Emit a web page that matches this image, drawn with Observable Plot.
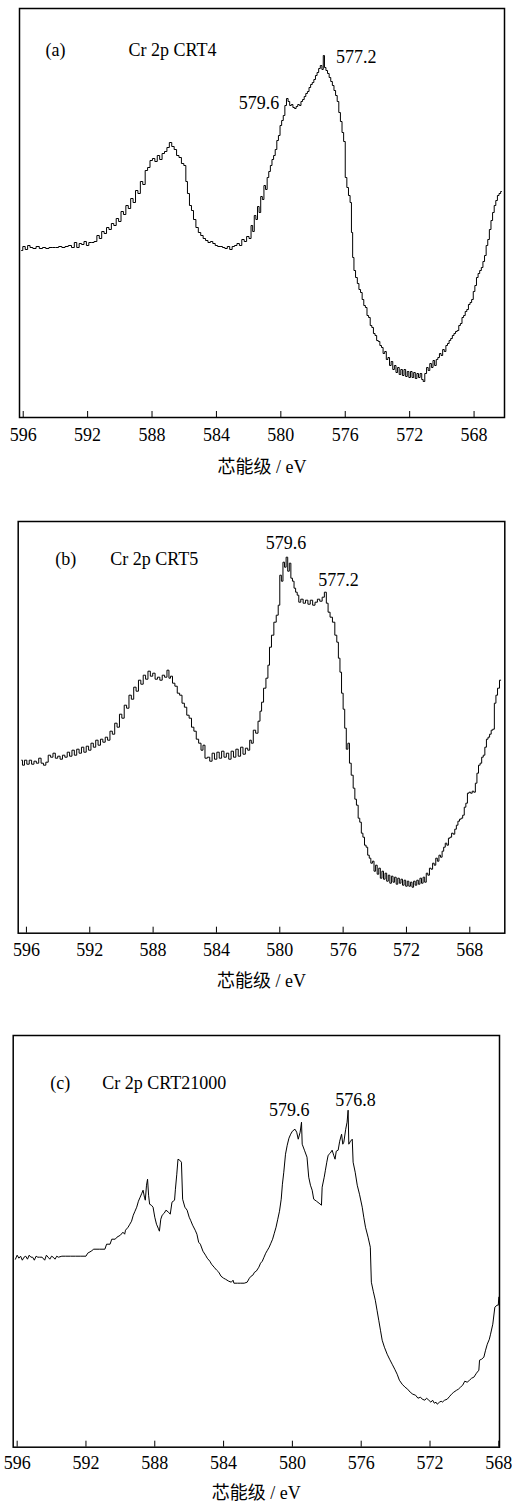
<!DOCTYPE html>
<html><head><meta charset="utf-8">
<script src="https://cdn.jsdelivr.net/npm/d3@7"></script>
<script src="https://cdn.jsdelivr.net/npm/@observablehq/plot@0.6"></script>
<style>
body{margin:0;background:#fff;width:512px}
#root svg{display:block}
</style></head><body><div id="root"></div>
<script>
// ---- data (binding energy eV, intensity a.u.) ----
const tickValues = [596, 592, 588, 584, 580, 576, 572, 568];
const panelLabels = ["(a)", "(b)", "(c)"];
const sampleNames = ["Cr 2p CRT4", "Cr 2p CRT5", "Cr 2p CRT21000"];
const axisTitle = "芯能级 / eV";

const crt4 = [
[596.10,167],[595.95,171],[595.80,168],[595.65,172],[595.50,170],[595.30,169],[595.10,171],[594.90,169],[594.70,170],[594.50,169],
[594.30,170],[594.10,170],[593.90,170],[593.70,171],[593.50,170],[593.30,171],[593.10,172],[592.90,170],[592.75,175],[592.60,170],
[592.45,174],[592.30,173],[592.15,176],[592.00,172],[591.85,175],[591.70,175],[591.50,176],[591.35,182],[591.20,179],[591.05,186],
[590.90,184],[590.75,190],[590.60,188],[590.45,194],[590.30,192],[590.15,199],[590.00,196],[589.85,206],[589.70,203],[589.55,212],
[589.40,209],[589.25,219],[589.10,215],[588.95,227],[588.80,224],[588.65,236],[588.50,233],[588.35,247],[588.20,250],[588.05,257],
[587.90,259],[587.75,256],[587.60,262],[587.45,258],[587.30,264],[587.15,266],[587.00,270],[586.85,275],[586.70,271],[586.55,268],
[586.40,262],[586.25,260],[586.10,254],[585.95,252],[585.85,236],[585.75,224],[585.60,212],[585.50,207],[585.35,198],[585.20,190],
[585.05,185],[584.90,182],[584.75,179],[584.60,177],[584.45,175],[584.30,176],[584.15,174],[584.00,172],[583.85,171],[583.70,171],
[583.55,170],[583.40,169],[583.25,171],[583.10,168],[582.95,171],[582.80,172],[582.65,174],[582.50,172],[582.35,178],[582.20,176],
[582.05,181],[581.90,179],[581.80,192],[581.70,186],[581.60,202],[581.50,198],[581.40,211],[581.30,205],[581.20,221],[581.10,218],
[581.00,232],[580.90,228],[580.80,240],[580.70,246],[580.60,252],[580.50,258],[580.40,262],[580.30,268],[580.20,277],[580.10,282],
[580.00,292],[579.90,297],[579.80,302],[579.70,312],[579.60,319],[579.50,316],[579.40,312],[579.30,313],[579.20,310],[579.10,309],
[579.00,311],[578.90,313],[578.80,312],[578.70,316],[578.60,318],[578.50,321],[578.40,324],[578.30,326],[578.20,330],[578.10,333],
[578.00,335],[577.90,338],[577.80,342],[577.70,345],[577.60,349],[577.50,352],[577.40,348],[577.33,362],[577.25,350],[577.15,347],
[577.05,344],[576.95,340],[576.85,336],[576.75,332],[576.65,327],[576.55,322],[576.45,316],[576.35,305],[576.25,296],[576.15,285],
[576.05,276],[575.95,240],[575.85,230],[575.75,222],[575.65,215],[575.58,185],[575.50,160],[575.42,147],[575.30,140],[575.20,134],
[575.10,128],[575.00,125],[574.90,118],[574.80,112],[574.70,110],[574.60,102],[574.50,100],[574.40,92],[574.30,90],[574.20,84],
[574.10,82],[574.00,77],[573.90,76],[573.80,72],[573.70,70],[573.60,64],[573.50,66],[573.40,58],[573.30,60],[573.20,52],
[573.10,56],[573.00,48],[572.90,52],[572.80,45],[572.70,50],[572.60,43],[572.50,48],[572.40,42],[572.30,48],[572.20,41],
[572.10,46],[572.00,40],[571.90,46],[571.80,40],[571.70,45],[571.60,39],[571.50,44],[571.40,40],[571.30,44],[571.20,38],
[571.12,36],[571.00,44],[570.90,50],[570.80,47],[570.70,54],[570.60,50],[570.50,57],[570.40,52],[570.30,58],[570.20,60],
[570.10,64],[570.00,62],[569.90,68],[569.80,66],[569.70,72],[569.60,74],[569.50,77],[569.40,79],[569.30,82],[569.20,84],
[569.10,86],[569.00,87],[568.90,92],[568.80,94],[568.70,100],[568.60,102],[568.50,106],[568.40,108],[568.30,113],[568.20,115],
[568.10,118],[568.00,126],[567.90,132],[567.80,140],[567.70,144],[567.60,147],[567.50,150],[567.40,156],[567.30,162],[567.20,172],
[567.10,178],[567.00,188],[566.90,197],[566.80,205],[566.70,212],[566.60,217],[566.50,222],[566.40,224],[566.30,226]
];

const crt5 = [
[596.30,173],[596.20,168],[596.05,173],[595.90,169],[595.75,173],[595.60,169],[595.45,172],[595.30,170],[595.15,175],[595.00,170],
[594.85,168],[594.70,171],[594.55,178],[594.40,176],[594.25,180],[594.10,175],[593.95,177],[593.80,174],[593.65,178],[593.50,176],
[593.35,181],[593.20,177],[593.05,183],[592.90,178],[592.75,184],[592.60,180],[592.45,186],[592.30,181],[592.15,187],[592.00,183],
[591.85,190],[591.70,186],[591.55,193],[591.40,188],[591.25,194],[591.10,191],[590.95,196],[590.80,193],[590.65,202],[590.50,199],
[590.35,210],[590.20,206],[590.05,219],[589.90,215],[589.75,228],[589.60,225],[589.45,238],[589.30,234],[589.15,246],[589.00,242],
[588.85,253],[588.70,249],[588.55,258],[588.40,254],[588.25,262],[588.10,257],[587.95,260],[587.80,254],[587.65,256],[587.50,253],
[587.35,258],[587.20,256],[587.05,263],[586.95,255],[586.85,257],[586.70,250],[586.55,247],[586.40,240],[586.25,238],[586.10,230],
[585.95,226],[585.80,218],[585.65,215],[585.50,206],[585.35,202],[585.20,194],[585.05,190],[584.90,183],[584.80,188],[584.65,175],
[584.50,176],[584.35,172],[584.20,180],[584.05,174],[583.90,181],[583.75,175],[583.60,182],[583.45,176],[583.30,180],[583.15,174],
[583.00,182],[582.85,176],[582.70,184],[582.55,177],[582.40,186],[582.25,179],[582.10,185],[581.95,183],[581.85,193],[581.75,190],
[581.60,203],[581.45,200],[581.30,212],[581.20,222],[581.10,231],[580.95,245],[580.80,255],[580.70,268],[580.60,286],[580.45,298],
[580.30,311],[580.15,318],[580.05,328],[579.95,358],[579.85,352],[579.75,371],[579.65,366],[579.55,376],[579.45,362],[579.35,370],
[579.25,355],[579.15,352],[579.05,345],[578.95,341],[578.85,338],[578.75,331],[578.60,334],[578.45,330],[578.30,333],[578.15,329],
[578.00,333],[577.85,328],[577.70,331],[577.55,334],[577.40,332],[577.25,336],[577.12,341],[577.00,330],[576.90,321],[576.75,316],
[576.60,311],[576.45,298],[576.35,291],[576.25,275],[576.15,261],[576.05,240],[575.95,224],[575.85,205],[575.75,184],[575.65,190],
[575.55,170],[575.43,158],[575.30,145],[575.22,134],[575.10,128],[575.00,115],[574.90,111],[574.80,100],[574.70,96],[574.60,88],
[574.50,86],[574.40,78],[574.30,75],[574.20,70],[574.10,72],[574.00,62],[573.90,68],[573.80,59],[573.70,65],[573.60,55],
[573.50,62],[573.40,54],[573.30,60],[573.20,52],[573.10,58],[573.00,50],[572.90,57],[572.80,51],[572.70,56],[572.60,49],
[572.50,55],[572.40,50],[572.30,54],[572.20,48],[572.10,53],[572.00,47],[571.90,52],[571.80,47],[571.70,51],[571.60,46],
[571.50,52],[571.40,48],[571.30,53],[571.20,49],[571.10,55],[571.00,50],[570.90,56],[570.80,51],[570.70,60],[570.60,58],
[570.50,65],[570.40,64],[570.30,70],[570.20,68],[570.10,75],[570.00,72],[569.90,78],[569.80,76],[569.70,82],[569.60,86],
[569.50,90],[569.40,88],[569.30,95],[569.20,96],[569.10,100],[569.00,99],[568.90,104],[568.80,108],[568.70,112],[568.60,114],
[568.50,115],[568.40,118],[568.30,126],[568.20,130],[568.10,140],[568.00,141],[567.90,140],[567.80,142],[567.70,141],[567.60,150],
[567.50,160],[567.40,168],[567.30,170],[567.20,176],[567.10,178],[567.00,186],[566.90,194],[566.80,196],[566.70,199],[566.60,203],
[566.50,204],[566.40,230],[566.30,238],[566.20,245],[566.05,253]
];

const crt21000 = [
[596.10,188],[596.00,192],[595.90,189],[595.80,191],[595.70,187],[595.60,190],[595.50,191],[595.40,188],[595.30,192],[595.20,190],
[595.10,190],[595.00,187],[594.90,191],[594.80,190],[594.70,190],[594.55,190],[594.40,187],[594.30,192],[594.20,190],[594.10,188],
[594.00,191],[593.90,190],[593.80,188],[593.70,191],[593.60,190],[593.40,191],[593.20,191],[592.90,191],[592.60,191],[592.30,191],
[592.00,191],[591.90,194],[591.70,196],[591.55,198],[591.20,198],[590.90,198],[590.80,203],[590.60,203],[590.50,208],[590.30,208],
[590.20,210],[590.00,212],[589.85,215],[589.75,213],[589.70,217],[589.55,220],[589.45,223],[589.35,226],[589.25,232],[589.15,236],
[589.05,240],[588.95,246],[588.85,250],[588.75,254],[588.68,257],[588.60,250],[588.55,247],[588.48,262],[588.42,268],[588.36,252],
[588.30,243],[588.20,242],[588.10,240],[588.00,230],[587.90,223],[587.80,219],[587.73,216],[587.65,228],[587.57,232],[587.45,234],
[587.35,237],[587.20,235],[587.10,233],[587.00,245],[586.85,247],[586.80,258],[586.72,273],[586.65,288],[586.55,287],[586.45,285],
[586.38,248],[586.25,240],[586.12,237],[586.00,230],[585.92,227],[585.80,222],[585.65,217],[585.55,213],[585.45,205],[585.35,203],
[585.20,196],[585.05,192],[584.95,189],[584.80,186],[584.70,183],[584.55,180],[584.40,177],[584.28,175],[584.15,171],[584.00,169],
[583.89,168],[583.70,166],[583.55,165],[583.45,167],[583.40,164],[583.20,164],[583.00,164],[582.80,164],[582.63,165],[582.50,169],
[582.40,171],[582.30,172],[582.20,175],[582.10,176],[581.95,180],[581.85,184],[581.75,186],[581.65,190],[581.55,194],[581.45,197],
[581.35,200],[581.25,204],[581.15,208],[581.05,214],[580.95,220],[580.85,228],[580.75,236],[580.65,248],[580.58,263],[580.50,275],
[580.40,293],[580.30,302],[580.20,309],[580.10,313],[580.00,316],[579.85,318],[579.75,315],[579.66,308],[579.55,315],[579.47,325],
[579.43,303],[579.30,297],[579.15,290],[579.05,270],[578.95,262],[578.85,257],[578.76,248],[578.60,246],[578.45,244],[578.31,242],
[578.27,260],[578.15,270],[578.08,277],[578.00,285],[577.92,292],[577.80,294],[577.69,297],[577.60,292],[577.52,288],[577.45,296],
[577.34,297],[577.25,306],[577.14,313],[577.07,303],[577.01,305],[576.90,318],[576.82,325],[576.76,337],[576.72,303],[576.62,306],
[576.52,308],[576.47,285],[576.35,275],[576.23,262],[576.10,253],[575.94,240],[575.85,230],[575.75,220],[575.60,210],[575.47,200],
[575.41,165],[575.30,156],[575.18,147],[575.08,137],[574.98,127],[574.88,117],[574.78,107],[574.65,100],[574.49,93],[574.35,88],
[574.20,83],[574.05,78],[573.91,73],[573.78,67],[573.62,63],[573.45,60],[573.30,58],[573.15,55],[573.00,53],[572.84,52],
[572.70,49],[572.55,50],[572.45,48],[572.30,47],[572.20,49],[572.07,47],[571.95,45],[571.85,47],[571.75,44],[571.65,45],
[571.58,43],[571.45,45],[571.35,46],[571.29,45],[571.15,47],[571.00,48],[570.85,51],[570.75,53],[570.62,55],[570.45,57],
[570.35,58],[570.23,60],[570.10,62],[569.98,66],[569.84,65],[569.70,67],[569.58,69],[569.45,70],[569.30,74],[569.16,77],
[569.12,87],[569.00,88],[568.87,90],[568.77,97],[568.67,103],[568.55,108],[568.48,113],[568.35,123],[568.23,140],[568.10,142],
[568.03,142],[568.00,150]
];

const peaksA = [{label: "579.6", E: 579.6, I: 319}, {label: "577.2", E: 577.2, I: 362}];
const peaksB = [{label: "579.6", E: 579.6, I: 376}, {label: "577.2", E: 577.2, I: 341}];
const peaksC = [{label: "579.6", E: 579.6, I: 325}, {label: "576.8", E: 576.8, I: 337}];

// ---- layout / styling ----
const serif = "'Liberation Serif', 'Times New Roman', 'Noto Sans CJK SC', serif";
const panels = [
  {data: crt4, peaks: peaksA, xDomain: [596.23, 566.11], yMax: 409, height: 490,
   m: [8, 8, 73, 19], curve: "step", tag: [26, 35], name: [109, 35], labelOffset: 55, tickPad: 17,
   peakStyle: [{a: "end", dx: -8, dy: 5}, {a: "start", dx: 10, dy: 2}]},
  {data: crt5, peaks: peaksB, xDomain: [596.52, 565.79], yMax: 411.7, height: 510,
   m: [31, 7.7, 67.3, 17.7], curve: "step", tag: [37, 31], name: [92, 31], labelOffset: 54, tickPad: 16,
   peakStyle: [{a: "middle", dx: 0, dy: -14}, {a: "start", dx: -6, dy: -12}]},
  {data: crt21000, peaks: peaksC, xDomain: [596.23, 567.96], yMax: 411.7, height: 505,
   m: [35, 13, 58.3, 12.7], curve: "linear", tag: [37, 41], name: [89, 41], labelOffset: 52, tickPad: 15,
   peakStyle: [{a: "middle", dx: -10, dy: -12}, {a: "middle", dx: 8, dy: -10}]}
];

const root = document.getElementById("root");
panels.forEach((p, i) => {
  const chart = Plot.plot({
    width: 512, height: p.height,
    marginTop: p.m[0], marginRight: p.m[1], marginBottom: p.m[2], marginLeft: p.m[3],
    x: {domain: p.xDomain},
    y: {domain: [0, p.yMax], axis: null},
    style: {fontFamily: serif, fontSize: "18px", color: "#000", background: "#fff", overflow: "visible"},
    marks: [
      Plot.axisX(tickValues, {tickSize: -6, tickPadding: p.tickPad, fontSize: 18, stroke: "#000",
        label: axisTitle, labelAnchor: "center", labelArrow: "none", labelOffset: p.labelOffset}),
      Plot.line(p.data, {x: d => d[0], y: d => d[1], curve: p.curve, stroke: "#000", strokeWidth: 1}),
      Plot.frame({stroke: "#000", strokeWidth: 1.5}),
      Plot.text([panelLabels[i]], {frameAnchor: "top-left", textAnchor: "start", dx: p.tag[0], dy: p.tag[1], fontSize: 18}),
      Plot.text([sampleNames[i]], {frameAnchor: "top-left", textAnchor: "start", dx: p.name[0], dy: p.name[1], fontSize: 18}),
      ...p.peaks.map((pk, j) => Plot.text([pk], {x: "E", y: "I", text: "label", fontSize: 18,
        textAnchor: p.peakStyle[j].a, dx: p.peakStyle[j].dx, dy: p.peakStyle[j].dy}))
    ]
  });
  root.appendChild(chart);
});
</script></body></html>
